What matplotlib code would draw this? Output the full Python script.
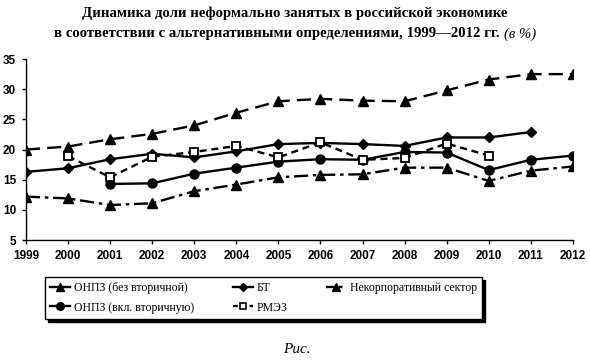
import numpy as np
import matplotlib
matplotlib.use('Agg')
from matplotlib import pyplot as plt
from matplotlib.lines import Line2D

years = list(range(1999, 2013))

onpz_bez = [20.0, 20.5, 21.7, 22.6, 24.0, 26.1, 28.0, 28.4, 28.1, 28.0, 29.8, 31.6, 32.5, 32.5]
bt = [16.3, 16.9, 18.4, 19.3, 18.7, 19.7, 20.9, 21.1, 20.9, 20.6, 22.0, 22.0, 22.9, None]
nekorp = [12.2, 11.9, 10.8, 11.1, 13.1, 14.2, 15.4, 15.8, 15.9, 17.0, 17.0, 14.8, 16.5, 17.2]
onpz_vkl = [None, None, 14.3, 14.4, 16.0, 17.0, 18.0, 18.4, 18.3, 19.6, 19.5, 16.6, 18.3, 19.0]
rmez = [None, 18.9, 15.4, 18.8, 19.6, 20.6, 18.7, 21.2, 18.3, 18.6, 21.0, 19.0, None, None]

labels = ['ОНПЗ (без вторичной)', 'ОНПЗ (вкл. вторичную)', 'БТ', 'РМЭЗ', 'Некорпоративный сектор']
yticks = [5, 10, 15, 20, 25, 30, 35]


def arr(v):
    return np.array([np.nan if x is None else x for x in v], dtype=float)


fig = plt.figure(figsize=(5.9, 3.61), dpi=100)
ax = fig.add_axes([0.044, 0.335, 0.927, 0.5015])

lw = 1.7
ax.plot(years, arr(onpz_bez), color='black', lw=lw, ls=(0, (6, 3)), marker='^', ms=7)
ax.plot(years, arr(bt), color='black', lw=lw, ls='-', marker='D', ms=5)
ax.plot(years, arr(nekorp), color='black', lw=lw, ls=(0, (6, 2, 1.5, 2)), marker='^', ms=7)
ax.plot(years, arr(onpz_vkl), color='black', lw=lw, ls='-', marker='o', ms=6.5)
ax.plot(years, arr(rmez), color='black', lw=lw, ls=(0, (3, 2)), marker='s', ms=6,
        mfc='white', mec='black', mew=1.3)

ax.set_xlim(1999, 2012)
ax.set_ylim(5, 35)
ax.set_yticks(yticks)
ax.set_xticks(years)
for s in ['top', 'right']:
    ax.spines[s].set_visible(False)
for s in ['left', 'bottom']:
    ax.spines[s].set_linewidth(1.0)
ax.tick_params(axis='both', length=3, width=1, labelsize=8.5, pad=4)
for t in ax.get_xticklabels() + ax.get_yticklabels():
    t.set_fontweight('bold')
    t.set_family('Liberation Sans')

handles = [
    Line2D([], [], color='black', lw=lw, ls='-', marker='^', ms=6),
    Line2D([], [], color='black', lw=lw, ls='-', marker='o', ms=5.5),
    Line2D([], [], color='black', lw=lw, ls='-', marker='D', ms=4.5),
    Line2D([], [], color='black', lw=lw, ls=(0, (2, 1.5)), marker='s', ms=5,
           mfc='white', mec='black', mew=1.2),
    Line2D([], [], color='black', lw=lw, ls=(0, (4, 1.5, 1.5, 1.5)), marker='^', ms=6),
]
leg = fig.legend(handles, labels, loc='center', bbox_to_anchor=(0.4466, 0.1745), ncol=3,
                 frameon=True, fancybox=False, shadow={'color': 'black', 'alpha': 1},
                 edgecolor='black', handlelength=1.7, handletextpad=0.3,
                 columnspacing=3.3, labelspacing=0.6, borderpad=0.45, borderaxespad=0,
                 prop={'family': 'Liberation Serif', 'size': 8.5})
leg.get_frame().set_linewidth(1.0)

t1 = fig.text(0.5, 0.962, 'Динамика доли неформально занятых в российской экономике',
              ha='center', va='center', fontsize=10.6, fontweight='bold', family='Liberation Serif')

fig.canvas.draw()
r = fig.canvas.get_renderer()
part1 = 'в соответствии с альтернативными определениями, 1999—2012 гг. '
part2 = '(в %)'
tmp1 = fig.text(0, 0, part1, fontsize=10.6, fontweight='bold', family='Liberation Serif')
tmp2 = fig.text(0, 0, part2, fontsize=10.6, style='italic', family='Liberation Serif')
w1 = tmp1.get_window_extent(r).width
w2 = tmp2.get_window_extent(r).width
tmp1.remove()
tmp2.remove()
W = fig.bbox.width
x0 = (W - w1 - w2) / 2 / W
fig.text(x0, 0.906, part1, ha='left', va='center', fontsize=10.6, fontweight='bold',
         family='Liberation Serif')
fig.text(x0 + w1 / W, 0.906, part2, ha='left', va='center', fontsize=10.6, style='italic',
         family='Liberation Serif')

fig.text(0.503, 0.033, 'Рис.', ha='center', va='center', fontsize=11, style='italic',
         family='Liberation Serif')

plt.savefig('out.png', dpi=100)
plt.close()
